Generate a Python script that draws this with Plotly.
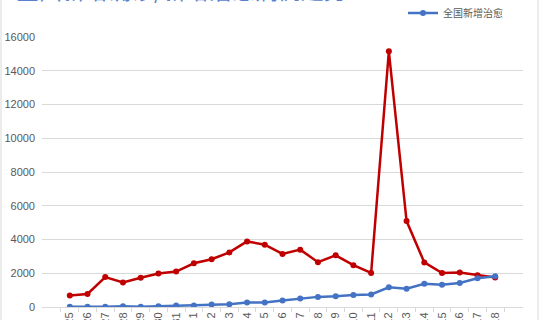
import plotly.graph_objects as go

dates = ["1月25", "1月26", "1月27", "1月28", "1月29", "1月30", "1月31",
         "2月1", "2月2", "2月3", "2月4", "2月5", "2月6", "2月7", "2月8",
         "2月9", "2月10", "2月11", "2月12", "2月13", "2月14", "2月15",
         "2月16", "2月17", "2月18"]
confirmed = [688, 769, 1771, 1459, 1737, 1982, 2102, 2590, 2829, 3235, 3887,
             3694, 3143, 3399, 2656, 3062, 2478, 2015, 15152, 5090, 2641,
             2009, 2048, 1886, 1749]
cured = [15, 9, 21, 43, 21, 47, 85, 90, 147, 157, 262, 261, 387, 510, 600,
         632, 716, 744, 1171, 1081, 1373, 1323, 1425, 1701, 1824]
y_ticks = [0, 2000, 4000, 6000, 8000, 10000, 12000, 14000, 16000]

title_text = "全国新增确诊/新增治愈病例趋势"
red_name = "全国新增确诊"
blue_name = "全国新增治愈"

RED = "#C00000"
BLUE = "#4472C4"
GRID = "#D9D9D9"
FONT = "Liberation Sans, Noto Sans CJK SC, sans-serif"

fig = go.Figure()
fig.add_trace(go.Scatter(
    x=dates, y=confirmed, name=red_name, mode="lines+markers",
    line=dict(color=RED, width=2.5), marker=dict(size=6, color=RED),
    showlegend=False))
fig.add_trace(go.Scatter(
    x=dates, y=cured, name=blue_name, mode="lines+markers",
    line=dict(color=BLUE, width=2.5), marker=dict(size=6, color=BLUE)))

W, H = 540, 320
L, R, T, B = 42, 17, 37, 13
pw = W - L - R
ph = H - T - B

def px_x(p):
    return (p - L) / pw

def px_y(p):
    return 1 + (T - p) / ph

fig.update_layout(
    width=W, height=H,
    margin=dict(l=L, r=R, t=T, b=B, pad=0, autoexpand=False),
    paper_bgcolor="white", plot_bgcolor="white",
    font=dict(family=FONT, size=11, color="#595959"),
    legend=dict(
        x=px_x(508), y=px_y(13), xanchor="right", yanchor="middle",
        orientation="h", font=dict(size=10, color="#595959"),
        itemwidth=30, bgcolor="rgba(0,0,0,0)", borderwidth=0),
    xaxis=dict(
        type="category", tickangle=-90, showgrid=False, automargin=False,
        showline=True, linecolor=GRID, linewidth=1,
        ticks="outside", ticklen=4, tickcolor=GRID, tickson="boundaries",
        tickfont=dict(size=11, color="#595959"), fixedrange=True),
    yaxis=dict(
        range=[0, 16000], tickvals=y_ticks, tickformat="d", showgrid=True,
        automargin=False,
        gridcolor=GRID, gridwidth=1, zeroline=False, showline=False,
        ticks="", ticklabelstandoff=6,
        tickfont=dict(size=11, color="#595959"), fixedrange=True),
    annotations=[dict(
        text=title_text, xref="paper", yref="paper",
        x=px_x(14), y=1, xanchor="left", yanchor="bottom", yshift=29,
        showarrow=False,
        font=dict(size=23, color="#5B7FD0", family="Noto Sans CJK SC"))],
    shapes=[
        dict(type="line", xref="paper", yref="paper",
             x0=px_x(1), x1=px_x(1), y0=px_y(0), y1=px_y(320),
             line=dict(color=GRID, width=1)),
        dict(type="line", xref="paper", yref="paper",
             x0=px_x(538), x1=px_x(538), y0=px_y(0), y1=px_y(320),
             line=dict(color=GRID, width=1)),
    ],
)

fig.write_html("out.html")
